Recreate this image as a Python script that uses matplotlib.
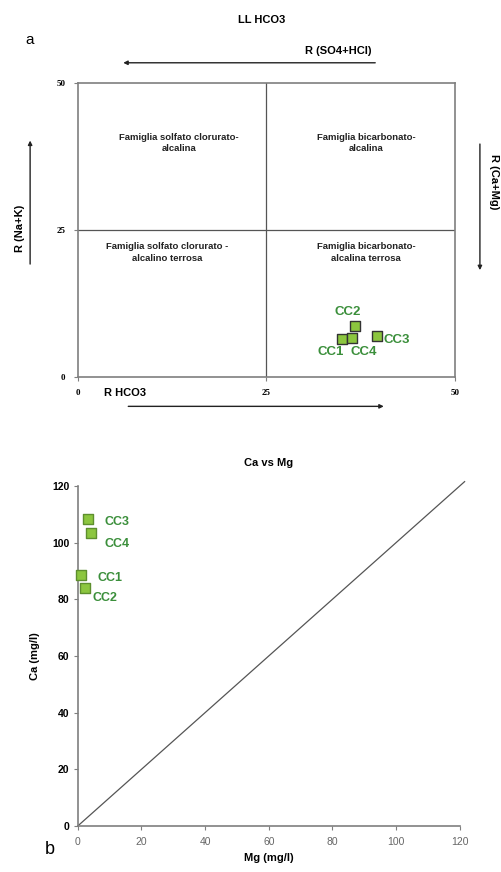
import matplotlib
matplotlib.use("Agg")
import matplotlib.pyplot as plt

plt.rcParams['font.family'] = ['Liberation Sans', 'DejaVu Sans']

# Langelier-Ludwig data (panel a)
ll_labels = ["CC1", "CC2", "CC3", "CC4"]
ll_hco3 = [35.0, 36.7, 39.7, 36.3]
ll_nak = [6.5, 8.7, 7.0, 6.6]
ll_ticks = [0, 25, 50]

# Ca vs Mg data (panel b)
cm_labels = ["CC1", "CC2", "CC3", "CC4"]
cm_mg = [0.9, 2.3, 3.1, 4.0]
cm_ca = [88.6, 84.0, 108.4, 103.4]
cm_ticks = [0, 20, 40, 60, 80, 100, 120]
line_end = 121.5

quad_text = [
    (13.4, 39.8, "Famiglia solfato clorurato-\nalcalina"),
    (38.2, 39.8, "Famiglia bicarbonato-\nalcalina"),
    (11.9, 21.1, "Famiglia solfato clorurato -\nalcalino terrosa"),
    (38.2, 21.1, "Famiglia bicarbonato-\nalcalina terrosa"),
]

GREEN_FILL = "#8cc63f"
GREEN_TXT = "#3b8f3b"
GREY = "#7f7f7f"

fig = plt.figure(figsize=(5.02, 8.72), dpi=100)

# ---- panel a ----
ax1 = fig.add_axes([0.155, 0.568, 0.751, 0.337])
ax1.set_xlim(0, 50)
ax1.set_ylim(0, 50)
ax1.set_xticks(ll_ticks)
ax1.set_yticks(ll_ticks)
ax1.tick_params(labelsize=6.5, length=3, color=GREY, pad=6)
for lab in ax1.get_xticklabels() + ax1.get_yticklabels():
    lab.set_fontfamily(['Liberation Serif', 'DejaVu Serif'])
    lab.set_fontweight('bold')
for sp in ax1.spines.values():
    sp.set_color(GREY)
    sp.set_linewidth(1.2)
ax1.axvline(25, color="#555555", lw=0.9)
ax1.axhline(25, color="#555555", lw=0.9)
for x, y, t in quad_text:
    ax1.text(x, y, t, ha="center", va="center", fontsize=6.8,
             fontweight="bold", color="#222222", linespacing=1.35)
ax1.scatter(ll_hco3, ll_nak, marker="s", s=58, c=GREEN_FILL,
            edgecolors="#333333", linewidths=1.0, zorder=3)
ll_off = {"CC1": (-8, -10), "CC2": (-5, 10), "CC3": (14, -3), "CC4": (9, -10)}
for lab, x, y in zip(ll_labels, ll_hco3, ll_nak):
    ax1.annotate(lab, (x, y), xytext=ll_off[lab], textcoords="offset points",
                 ha="center", va="center", fontsize=9.5, fontweight="bold",
                 color=GREEN_TXT)

fig.text(0.522, 0.977, "LL HCO3", ha="center", va="center",
         fontsize=8, fontweight="bold")
fig.text(0.06, 0.954, "a", ha="center", va="center", fontsize=11)
fig.text(0.673, 0.942, "R (SO4+HCl)", ha="center", va="center",
         fontsize=8, fontweight="bold")
fig.text(0.25, 0.549, "R HCO3", ha="center", va="center",
         fontsize=8, fontweight="bold")
fig.text(0.04, 0.738, "R (Na+K)", ha="center", va="center", rotation=90,
         fontsize=8, fontweight="bold")
fig.text(0.985, 0.792, "R (Ca+Mg)", ha="center", va="center", rotation=-90,
         fontsize=8, fontweight="bold")

arr = dict(arrowstyle="-|>", color="#222222", lw=1.0, mutation_scale=6)
fig.add_artist(matplotlib.patches.FancyArrowPatch(
    (0.753, 0.928), (0.24, 0.928), transform=fig.transFigure, **arr))
fig.add_artist(matplotlib.patches.FancyArrowPatch(
    (0.25, 0.534), (0.77, 0.534), transform=fig.transFigure, **arr))
fig.add_artist(matplotlib.patches.FancyArrowPatch(
    (0.06, 0.694), (0.06, 0.842), transform=fig.transFigure, **arr))
fig.add_artist(matplotlib.patches.FancyArrowPatch(
    (0.956, 0.838), (0.956, 0.687), transform=fig.transFigure, **arr))

# ---- panel b ----
ax2 = fig.add_axes([0.155, 0.0528, 0.761, 0.390])
ax2.set_xlim(0, 120)
ax2.set_ylim(0, 120)
ax2.set_xticks(cm_ticks)
ax2.set_yticks(cm_ticks)
ax2.spines["top"].set_visible(False)
ax2.spines["right"].set_visible(False)
for sp in ("left", "bottom"):
    ax2.spines[sp].set_color(GREY)
    ax2.spines[sp].set_linewidth(1.2)
ax2.tick_params(axis="x", labelsize=7.5, length=3, color=GREY,
                labelcolor="#666666", pad=5)
ax2.tick_params(axis="y", labelsize=7.5, length=3, color=GREY, pad=3)
for lab in ax2.get_yticklabels():
    lab.set_fontweight("bold")
ax2.plot([0, line_end], [0, line_end], color="#555555", lw=0.9, clip_on=False)
ax2.scatter(cm_mg, cm_ca, marker="s", s=58, c=GREEN_FILL,
            edgecolors="#5e8f2e", linewidths=1.0, zorder=3, clip_on=False)
cm_off = {"CC1": (21, -2), "CC2": (14, -7), "CC3": (21, -2), "CC4": (19, -8)}
for lab, x, y in zip(cm_labels, cm_mg, cm_ca):
    ax2.annotate(lab, (x, y), xytext=cm_off[lab], textcoords="offset points",
                 ha="center", va="center", fontsize=9, fontweight="bold",
                 color=GREEN_TXT)
ax2.set_title("Ca vs Mg", fontsize=8, fontweight="bold", pad=14)
ax2.set_xlabel("Mg (mg/l)", fontsize=8, fontweight="bold", labelpad=4)
ax2.set_ylabel("Ca (mg/l)", fontsize=8, fontweight="bold", labelpad=9)
fig.text(0.1, 0.026, "b", ha="center", va="center", fontsize=13)

fig.savefig("out.png", dpi=100, facecolor="white")
